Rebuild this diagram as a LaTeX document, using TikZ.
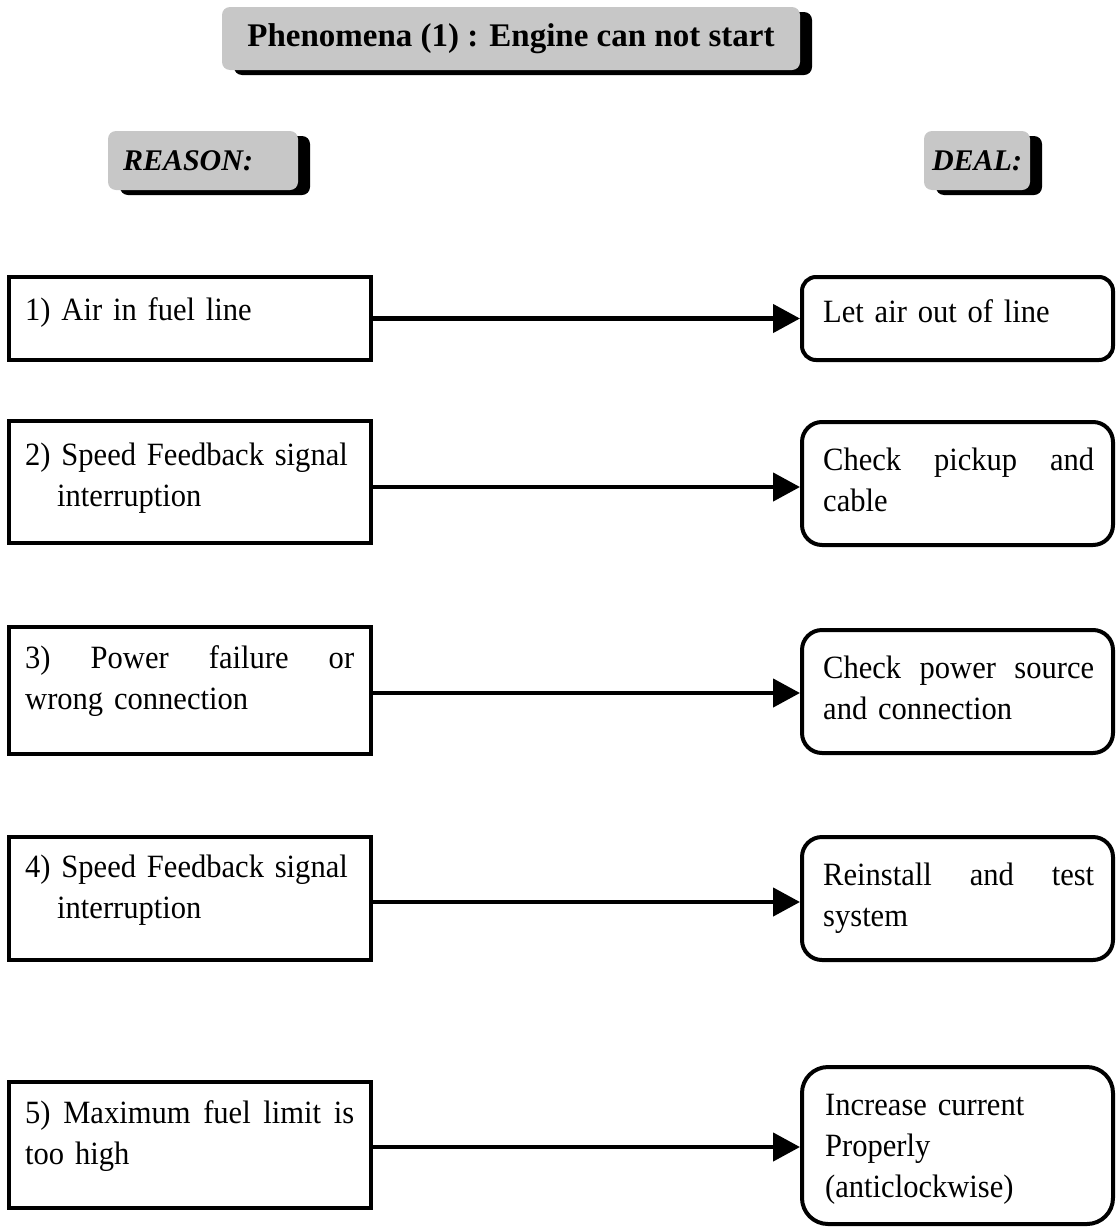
\documentclass[tikz,border=0pt]{standalone}
\usepackage{fontspec}
\setmainfont{Liberation Serif}
\newfontfamily\bodyfont{Liberation Serif}[FakeStretch=0.94]
\usetikzlibrary{arrows.meta,shadows}
\hyphenpenalty=10000
\begin{document}
\begin{tikzpicture}[x=1pt,y=-1pt,
  hdr/.style={fill=black!22, rounded corners=8pt, inner sep=0pt,
    drop shadow={fill=black,opacity=1,shadow xshift=12pt,shadow yshift=-5pt}},
  lbox/.style={draw, line width=4pt, inner sep=0pt, minimum width=362pt},
  dbox/.style={draw, line width=4pt, inner sep=0pt, minimum width=311pt},
  ltext/.style={anchor=base west, inner sep=0pt, text width=340pt, align=left,
    font=\bodyfont\fontsize{32.5}{41}\selectfont},
  rtext/.style={anchor=base west, inner sep=0pt, text width=285pt, align=left,
    font=\bodyfont\fontsize{32.5}{41}\selectfont},
  arr/.style={line width=4.5pt, -{Triangle[length=27pt,width=28pt]}}
]
\useasboundingbox (0,0) rectangle (1116,1229);

% headers
\node[hdr, minimum width=578pt, minimum height=63pt,
  font=\bfseries\fontsize{33}{38}\selectfont] (title) at (511,38.5)
  {Phenomena (1) : Engine can not start};
\node[hdr, minimum width=190pt, minimum height=59pt, text width=160pt, align=left,
  font=\bfseries\itshape\fontsize{30}{36}\selectfont] (reason) at (203,160.5) {REASON:};
\node[hdr, minimum width=106pt, minimum height=59pt, text width=90pt, align=left,
  font=\bfseries\itshape\fontsize{30}{36}\selectfont] (deal) at (977,160.5) {DEAL:};

% left boxes
\node[lbox, minimum height=83pt] (L1) at (190,318.5) {};
\node[ltext] (tL1) at (25,320) {1) Air in fuel line};
\node[lbox, minimum height=122pt] (L2) at (190,482) {};
\node[ltext] (tL2) at (25,465) {2) Speed Feedback signal\\\hspace*{32pt}interruption};
\node[lbox, minimum height=127pt] (L3) at (190,690.5) {};
\node[ltext] (tL3) at (25,668) {\hbox to 329pt{3)\hfill Power\hfill failure\hfill or}\\wrong connection};
\node[lbox, minimum height=123pt] (L4) at (190,898.5) {};
\node[ltext] (tL4) at (25,877) {4) Speed Feedback signal\\\hspace*{32pt}interruption};
\node[lbox, minimum height=126pt] (L5) at (190,1145) {};
\node[ltext] (tL5) at (25,1123) {\hbox to 329pt{5)\hfill Maximum\hfill fuel\hfill limit\hfill is}\\too high};

% right boxes
\node[dbox, rounded corners=14pt, minimum height=83pt] (R1) at (957.5,318.5) {};
\node[rtext] (tR1) at (823,322) {Let air out of line};
\node[dbox, rounded corners=20pt, minimum height=123pt] (R2) at (957.5,483.5) {};
\node[rtext] (tR2) at (823,470) {\hbox to 271pt{Check\hfill pickup\hfill and}\\cable};
\node[dbox, rounded corners=20pt, minimum height=123pt] (R3) at (957.5,691.5) {};
\node[rtext] (tR3) at (823,678) {\hbox to 271pt{Check\hfill power\hfill source}\\and connection};
\node[dbox, rounded corners=20pt, minimum height=123pt] (R4) at (957.5,898.5) {};
\node[rtext] (tR4) at (823,885) {\hbox to 271pt{Reinstall\hfill and\hfill test}\\system};
\node[dbox, rounded corners=26pt, minimum height=157pt] (R5) at (957.5,1145.5) {};
\node[rtext] (tR5) at (825,1115) {Increase current\\Properly\\(anticlockwise)};

% connectors
\coordinate (a1) at (L1.east);
\coordinate (a2) at ([yshift=-5pt]L2.east);
\coordinate (a3) at ([yshift=-2.5pt]L3.east);
\coordinate (a4) at ([yshift=-3.5pt]L4.east);
\coordinate (a5) at ([yshift=-2pt]L5.east);
\draw[arr] (a1) -- (a1 -| R1.west);
\draw[arr] (a2) -- (a2 -| R2.west);
\draw[arr] (a3) -- (a3 -| R3.west);
\draw[arr] (a4) -- (a4 -| R4.west);
\draw[arr] (a5) -- (a5 -| R5.west);
\end{tikzpicture}
\end{document}
